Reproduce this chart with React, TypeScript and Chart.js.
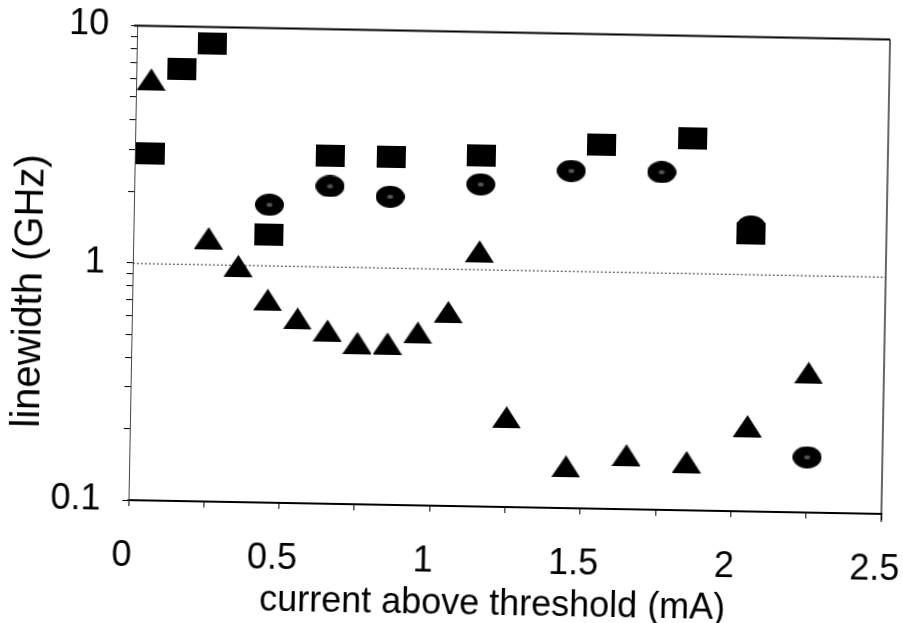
import React, { useEffect, useRef } from "react";
import { Chart, registerables } from "chart.js";

Chart.register(...registerables);

// ---- data ----
const squareX = [0.05, 0.15, 0.25, 0.45, 0.65, 0.85, 1.15, 1.55, 1.85, 2.05];
const squareY = [2.91, 6.59, 8.56, 1.35, 2.93, 2.94, 3.01, 3.41, 3.71, 1.49];

const circleX = [0.45, 0.65, 0.85, 1.15, 1.45, 1.75, 2.05, 2.25];
const circleY = [1.8, 2.18, 1.99, 2.28, 2.64, 2.65, 1.59, 0.171];

const triangleX = [0.05, 0.25, 0.35, 0.45, 0.55, 0.65, 0.75, 0.85, 0.95, 1.05, 1.15, 1.25, 1.45, 1.65, 1.85, 2.05, 2.25];
const triangleY = [5.95, 1.29, 0.99, 0.716, 0.6, 0.537, 0.479, 0.479, 0.535, 0.657, 1.19, 0.239, 0.15, 0.169, 0.16, 0.229, 0.388];

const xTickLabels = ["0", "0.5", "1", "1.5", "2", "2.5"];
const yTickLabels = ["0.1", "1", "10"];
const yTickValues = [0.1, 0.2, 0.3, 0.4, 0.5, 0.6, 0.7, 0.8, 0.9, 1, 2, 3, 4, 5, 6, 7, 8, 9, 10];
const xTitle = "current above threshold (mA)";
const yTitle = "linewidth (GHz)";

const FONT = '"Liberation Sans", Arial, Helvetica, sans-serif';

function makeMarker(kind: string): HTMLCanvasElement {
  const c = document.createElement("canvas");
  c.width = 29;
  c.height = 22;
  const g = c.getContext("2d")!;
  g.fillStyle = "#000";
  g.beginPath();
  if (kind === "square") {
    g.rect(0, 0, 29, 22);
  } else if (kind === "circle") {
    g.ellipse(14.5, 11, 14.5, 11, 0, 0, Math.PI * 2);
  } else {
    g.moveTo(14.5, 0);
    g.lineTo(29, 22);
    g.lineTo(0, 22);
    g.closePath();
  }
  g.fill();
  if (kind === "circle") {
    g.fillStyle = "#555";
    g.beginPath();
    g.ellipse(14.5, 11, 3, 2, 0, 0, Math.PI * 2);
    g.fill();
  }
  return c;
}

function toPoints(xs: number[], ys: number[]) {
  return xs.map((x, i) => ({ x, y: ys[i] }));
}

const framePlugin = {
  id: "frameAndTitles",
  beforeDatasetsDraw(chart: any) {
    const { ctx, chartArea } = chart;
    const y1 = chart.scales.y.getPixelForValue(1);
    ctx.save();
    ctx.strokeStyle = "#333";
    ctx.lineWidth = 1;
    ctx.setLineDash([2, 2]);
    ctx.beginPath();
    ctx.moveTo(chartArea.left, y1 + 0.5);
    ctx.lineTo(chartArea.right, y1 + 0.5);
    ctx.stroke();
    ctx.restore();
  },
  afterDraw(chart: any) {
    const { ctx, chartArea } = chart;
    const { left, right, top, bottom } = chartArea;
    ctx.save();
    ctx.strokeStyle = "#000";
    ctx.lineWidth = 2;
    ctx.beginPath();
    ctx.moveTo(left - 3, top);
    ctx.lineTo(right, top);
    ctx.stroke();
    ctx.lineWidth = 1.2;
    ctx.beginPath();
    ctx.moveTo(right, top);
    ctx.lineTo(right, bottom + 8);
    ctx.stroke();

    ctx.fillStyle = "#000";
    ctx.textAlign = "center";
    ctx.textBaseline = "alphabetic";
    ctx.font = `36px ${FONT}`;
    ctx.fillText(xTitle, (left + right) / 2 - 11, bottom + 108);

    ctx.translate(left - 90.6, (top + bottom) / 2 + 30);
    ctx.rotate(-Math.PI / 2);
    ctx.font = `40px ${FONT}`;
    ctx.fillText(yTitle, 0, 0);
    ctx.restore();
  },
};

export default function App() {
  const ref = useRef<HTMLCanvasElement | null>(null);

  useEffect(() => {
    if (!ref.current) return;
    const sq = makeMarker("square");
    const ci = makeMarker("circle");
    const tr = makeMarker("triangle");

    const chart = new Chart(ref.current, {
      type: "scatter",
      data: {
        datasets: [
          {
            label: "squares",
            data: toPoints(squareX, squareY),
            pointStyle: sq as any,
            pointRadius: 12,
            backgroundColor: "#000",
            borderColor: "#000",
            clip: false as any,
          },
          {
            label: "circles",
            data: toPoints(circleX, circleY),
            pointStyle: ci as any,
            pointRadius: 12,
            backgroundColor: "#000",
            borderColor: "#000",
            clip: false as any,
          },
          {
            label: "triangles",
            data: toPoints(triangleX, triangleY),
            pointStyle: tr as any,
            pointRadius: 12,
            backgroundColor: "#000",
            borderColor: "#000",
            clip: false as any,
          },
        ],
      },
      options: {
        animation: false,
        responsive: false,
        devicePixelRatio: 1,
        layout: { padding: { left: 0, top: 31.5, right: 18, bottom: 0 } },
        plugins: { legend: { display: false }, tooltip: { enabled: false } },
        scales: {
          x: {
            type: "linear",
            min: 0,
            max: 2.5,
            afterFit(scale: any) {
              scale.height = 117;
              scale.paddingLeft = 0;
              scale.paddingRight = 0;
            },
            ticks: {
              stepSize: 0.25,
              autoSkip: false,
              maxRotation: 0,
              padding: 28,
              labelOffset: -6,
              color: "#000",
              font: { family: FONT, size: 36 },
              callback: (v: any) => {
                const n = Number(v);
                const idx = Math.round(n * 2);
                return Math.abs(n * 2 - idx) < 1e-9 ? xTickLabels[idx] : "";
              },
            },
            grid: {
              display: true,
              drawOnChartArea: false,
              drawTicks: true,
              tickLength: 6,
              tickColor: "#000",
              tickWidth: 1,
            },
            border: { display: true, color: "#000", width: 2 },
          },
          y: {
            type: "logarithmic",
            min: 0.1,
            max: 10,
            afterFit(scale: any) {
              scale.width = 132;
              scale.paddingTop = 0;
              scale.paddingBottom = 0;
            },
            afterBuildTicks(scale: any) {
              scale.ticks = yTickValues.map((v) => ({ value: v }));
            },
            ticks: {
              autoSkip: false,
              padding: 22,
              color: "#000",
              font: { family: FONT, size: 36 },
              callback: (v: any) => {
                const n = Number(v);
                const e = Math.round(Math.log10(n));
                return Math.abs(Math.log10(n) - e) < 1e-6 ? yTickLabels[e + 1] : "";
              },
            },
            grid: {
              display: true,
              drawOnChartArea: false,
              drawTicks: true,
              tickLength: 6,
              tickColor: "#000",
              tickWidth: 1,
            },
            border: { display: true, color: "#444", width: 1 },
          },
        },
      },
      plugins: [framePlugin],
    });
    return () => chart.destroy();
  }, []);

  return (
    <div
      style={{
        position: "fixed",
        left: 0,
        top: 0,
        width: 903,
        height: 623,
        background: "#fff",
        overflow: "hidden",
      }}
    >
      <canvas
        ref={ref}
        width={903}
        height={623}
        style={{
          display: "block",
          width: 903,
          height: 623,
          transform: "rotate(1.05deg)",
          transformOrigin: "50% 50%",
        }}
      />
    </div>
  );
}
